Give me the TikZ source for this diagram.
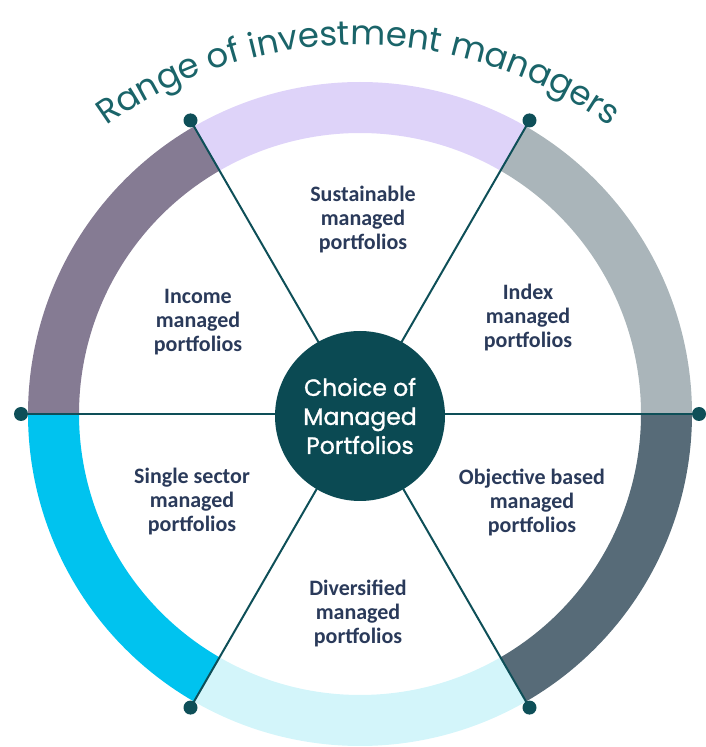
\documentclass[tikz,border=0pt]{standalone}
\usepackage{fontspec}
\setmainfont{Carlito}
\newfontfamily\popfont{Poppins}
\newfontfamily\pophub{Poppins}[FakeBold=1.2]
\usetikzlibrary{decorations.text}
\definecolor{ringA}{HTML}{DED3F9}
\definecolor{ringB}{HTML}{857B93}
\definecolor{ringC}{HTML}{00C3EF}
\definecolor{ringD}{HTML}{D3F5FA}
\definecolor{ringE}{HTML}{576B78}
\definecolor{ringF}{HTML}{AAB5BA}
\definecolor{spokecol}{HTML}{0E4F58}
\definecolor{hubcol}{HTML}{0B4A53}
\definecolor{titlecol}{HTML}{1A6469}
\definecolor{labelcol}{HTML}{2A3A5A}
\pgfdeclarelayer{ringlayer}
\pgfdeclarelayer{spokelayer}
\pgfsetlayers{ringlayer,spokelayer,main}
\tikzset{
  dotnode/.style={circle,fill=spokecol,minimum size=14pt,inner sep=0pt},
  spoke/.style={draw=spokecol,line width=2pt},
  hubnode/.style={circle,fill=hubcol,minimum size=170pt,inner sep=0pt,text=white,align=center,font=\pophub\fontsize{23.5}{29}\selectfont},
  lbl/.style={align=center,text=labelcol,font=\bfseries\fontsize{22}{24}\selectfont},
}
\newcommand{\ringseg}[3]{%
  \fill[#3] (#1:281) arc[start angle=#1,end angle=#2,radius=281] -- (#2:332) arc[start angle=#2,end angle=#1,radius=332] -- cycle;}
\begin{document}
\begin{tikzpicture}[x=1pt,y=1pt]
\useasboundingbox (0,0) rectangle (705,747);
% title
\path[decorate,decoration={text along path,text align=center,
  text={|\popfont\fontsize{34}{40}\selectfont\color{titlecol}|Range of investment managers}}]
  (358,271) ++(135:431) arc[start angle=135,end angle=45,radius=431];
\begin{scope}[shift={(360,333)}]
\begin{pgfonlayer}{ringlayer}
\ringseg{60}{120}{ringA}
\ringseg{120}{180}{ringB}
\ringseg{180}{240}{ringC}
\ringseg{240}{300}{ringD}
\ringseg{300}{360}{ringE}
\ringseg{0}{60}{ringF}
\end{pgfonlayer}
\coordinate (o) at (0,0);
\foreach \a/\n in {0/d0,60/d1,120/d2,180/d3,240/d4,300/d5}{
  \node[dotnode] (\n) at (\a:339) {};
}
\begin{pgfonlayer}{spokelayer}
\foreach \n in {d0,d1,d2,d3,d4,d5}{
  \draw[spoke] (o) -- (\n.center);
}
\end{pgfonlayer}
\node[hubnode] (hub) at (0,-2) {Choice of\\Managed\\Portfolios};
\node[lbl] (sus) at (3,194) {Sustainable\\managed\\portfolios};
\node[lbl] (inc) at (-162,92) {Income\\managed\\portfolios};
\node[lbl] (idx) at (168,96) {Index\\managed\\portfolios};
\node[lbl] (sgl) at (-168,-88) {Single sector\\managed\\portfolios};
\node[lbl] (obj) at (172,-88) {Objective based\\managed\\portfolios};
\node[lbl] (div) at (-2,-199) {Diversified\\managed\\portfolios};
\end{scope}
\end{tikzpicture}
\end{document}
